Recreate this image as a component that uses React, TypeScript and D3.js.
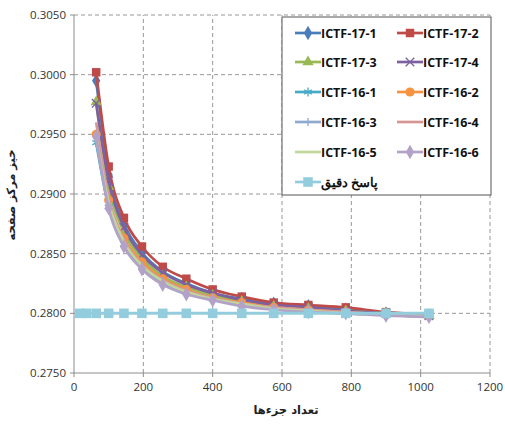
import React from 'react';
import * as d3 from 'd3';

// element counts
const xFull = [16, 36, 64, 100, 144, 196, 256, 324, 400, 484, 576, 676, 784, 900, 1024];
const xIctf = [64, 100, 144, 196, 256, 324, 400, 484, 576, 676, 784, 900, 1024];

const v17_1 = [0.2995, 0.2916, 0.2875, 0.2851, 0.2835, 0.2825, 0.2817, 0.2812, 0.2808, 0.2806, 0.2803, 0.2800, 0.2798];
const v17_2 = [0.3002, 0.2923, 0.2880, 0.2856, 0.2839, 0.2829, 0.2820, 0.2814, 0.2809, 0.2807, 0.2805, 0.2801, 0.2799];
const v17_3 = [0.2977, 0.2906, 0.2868, 0.2846, 0.2831, 0.2822, 0.2815, 0.2810, 0.2806, 0.2804, 0.2802, 0.2800, 0.2798];
const v17_4 = [0.2976, 0.2911, 0.2872, 0.2849, 0.2834, 0.2824, 0.2817, 0.2811, 0.2807, 0.2805, 0.2802, 0.2800, 0.2798];
const v16_1 = [0.2943, 0.2889, 0.2858, 0.2839, 0.2826, 0.2818, 0.2812, 0.2807, 0.2804, 0.2802, 0.2800, 0.2799, 0.2797];
const v16_2 = [0.2950, 0.2895, 0.2863, 0.2843, 0.2829, 0.2820, 0.2813, 0.2809, 0.2805, 0.2803, 0.2801, 0.2799, 0.2798];
const v16_3 = [0.2946, 0.2891, 0.2860, 0.2840, 0.2827, 0.2818, 0.2812, 0.2808, 0.2804, 0.2802, 0.2800, 0.2799, 0.2797];
const v16_4 = [0.2960, 0.2897, 0.2862, 0.2841, 0.2828, 0.2819, 0.2813, 0.2808, 0.2805, 0.2803, 0.2801, 0.2799, 0.2797];
const v16_5 = [0.2948, 0.2893, 0.2860, 0.2840, 0.2827, 0.2818, 0.2812, 0.2808, 0.2804, 0.2802, 0.2800, 0.2799, 0.2797];
const v16_6 = [0.2948, 0.2888, 0.2856, 0.2837, 0.2824, 0.2816, 0.2811, 0.2806, 0.2803, 0.2801, 0.2800, 0.2798, 0.2797];
const vExact = xFull.map(() => 0.28);

const xTicks = [0, 200, 400, 600, 800, 1000, 1200];
const yTicks = [0.275, 0.28, 0.285, 0.29, 0.295, 0.3, 0.305];

const series = [
  { name: 'ICTF-17-1', xs: xIctf, ys: v17_1, color: '#4a7ebb', marker: 'diamond' },
  { name: 'ICTF-17-2', xs: xIctf, ys: v17_2, color: '#be4b48', marker: 'square' },
  { name: 'ICTF-17-3', xs: xIctf, ys: v17_3, color: '#98b954', marker: 'triangle' },
  { name: 'ICTF-17-4', xs: xIctf, ys: v17_4, color: '#7d60a0', marker: 'x' },
  { name: 'ICTF-16-1', xs: xIctf, ys: v16_1, color: '#46aac5', marker: 'asterisk' },
  { name: 'ICTF-16-2', xs: xIctf, ys: v16_2, color: '#f69240', marker: 'circle' },
  { name: 'ICTF-16-3', xs: xIctf, ys: v16_3, color: '#8eaacf', marker: 'bar' },
  { name: 'ICTF-16-4', xs: xIctf, ys: v16_4, color: '#d69694', marker: 'none' },
  { name: 'ICTF-16-5', xs: xIctf, ys: v16_5, color: '#c1d69b', marker: 'none' },
  { name: 'ICTF-16-6', xs: xIctf, ys: v16_6, color: '#b3a2c7', marker: 'diamond' },
  { name: 'پاسخ دقیق', xs: xFull, ys: vExact, color: '#93cddd', marker: 'bigsquare' },
];

const W = 505, H = 425;
const x = d3.scaleLinear().domain([0, 1200]).range([74, 490]);
const y = d3.scaleLinear().domain([0.275, 0.305]).range([373, 15]);

function Marker({ type, color, cx, cy }: { type: string; color: string; cx: number; cy: number }) {
  const t = `translate(${cx},${cy})`;
  if (type === 'diamond') return <path transform={t} d={d3.symbol(d3.symbolDiamond, 60)()!} fill={color} />;
  if (type === 'square') return <path transform={t} d={d3.symbol(d3.symbolSquare, 72)()!} fill={color} />;
  if (type === 'bigsquare') return <path transform={t} d={d3.symbol(d3.symbolSquare, 92)()!} fill={color} />;
  if (type === 'triangle') return <path transform={t} d={d3.symbol(d3.symbolTriangle, 55)()!} fill={color} />;
  if (type === 'circle') return <circle cx={cx} cy={cy} r={4.6} fill={color} />;
  if (type === 'x') return <path transform={t} d={d3.symbol(d3.symbolTimes, 50)()!} fill="none" stroke={color} strokeWidth={1.3} />;
  if (type === 'asterisk') return <path transform={t} d={d3.symbol(d3.symbolAsterisk, 55)()!} fill="none" stroke={color} strokeWidth={1.3} />;
  if (type === 'bar') return <line x1={cx} x2={cx} y1={cy - 4} y2={cy + 4} stroke={color} strokeWidth={1.3} />;
  return null;
}

export default function App() {
  const line = d3.line<[number, number]>()
    .x((d) => x(d[0]))
    .y((d) => y(d[1]))
    .curve(d3.curveMonotoneX);

  const legendRows = [33, 62, 92, 122, 152, 182];
  const legendCols = [295, 397];

  return (
    <svg width={W} height={H} style={{ position: 'absolute', left: 0, top: 0, background: '#fff' }}>
      {/* grid */}
      {yTicks.slice(1).map((t) => (
        <line key={'gy' + t} x1={x(0)} x2={x(1200)} y1={y(t)} y2={y(t)} stroke="#8c8c8c" strokeDasharray="4,3" strokeWidth={0.9} />
      ))}
      {xTicks.slice(1).map((t) => (
        <line key={'gx' + t} x1={x(t)} x2={x(t)} y1={y(0.275)} y2={y(0.305)} stroke="#8c8c8c" strokeDasharray="4,3" strokeWidth={0.9} />
      ))}
      {/* axes */}
      <line x1={x(0)} x2={x(0)} y1={y(0.275)} y2={y(0.305)} stroke="#8c8c8c" />
      <line x1={x(0)} x2={x(1200)} y1={y(0.275)} y2={y(0.275)} stroke="#8c8c8c" />
      {yTicks.map((t) => (
        <g key={'ty' + t}>
          <line x1={x(0) - 4} x2={x(0)} y1={y(t)} y2={y(t)} stroke="#8c8c8c" />
          <text x={x(0) - 8} y={y(t)} dy="0.35em" textAnchor="end" fontFamily="Open Sans" fontSize={11.5} fill="#333">
            {t.toFixed(4)}
          </text>
        </g>
      ))}
      {xTicks.map((t) => (
        <g key={'tx' + t}>
          <line x1={x(t)} x2={x(t)} y1={y(0.275)} y2={y(0.275) + 4} stroke="#8c8c8c" />
          <text x={x(t)} y={y(0.275) + 18} textAnchor="middle" fontFamily="Open Sans" fontSize={11.5} fill="#333">
            {t}
          </text>
        </g>
      ))}
      {/* series */}
      {series.map((s) => {
        const pts = s.xs.map((v, i) => [v, s.ys[i]] as [number, number]);
        return (
          <g key={s.name}>
            <path d={line(pts)!} fill="none" stroke={s.color} strokeWidth={s.marker === 'bigsquare' ? 3 : 2.7} />
            {pts.map((p, i) => (
              <Marker key={i} type={s.marker} color={s.color} cx={x(p[0])} cy={y(p[1])} />
            ))}
          </g>
        );
      })}
      {/* axis titles */}
      <text x={286} y={414} textAnchor="middle" fontFamily="DejaVu Sans" fontWeight="bold" fontSize={11.5} fill="#222">
        تعداد جزءها
      </text>
      <text transform="translate(15,195) rotate(-90)" textAnchor="middle" fontFamily="DejaVu Sans" fontWeight="bold" fontSize={11.5} fill="#222">
        خیز مرکز صفحه
      </text>
      {/* legend */}
      <rect x={282} y={17} width={209} height={178} fill="#fff" stroke="#555" strokeWidth={1} />
      {series.map((s, i) => {
        const lx = legendCols[i % 2];
        const ly = legendRows[Math.floor(i / 2)];
        return (
          <g key={'lg' + s.name}>
            <line x1={lx} x2={lx + 26} y1={ly} y2={ly} stroke={s.color} strokeWidth={2.7} />
            <Marker type={s.marker} color={s.color} cx={lx + 13} cy={ly} />
            <text x={lx + 26} y={ly} dy="0.36em" fontFamily="Open Sans" fontWeight="bold" fontSize={12.5} fill="#111">
              {s.name}
            </text>
          </g>
        );
      })}
    </svg>
  );
}
